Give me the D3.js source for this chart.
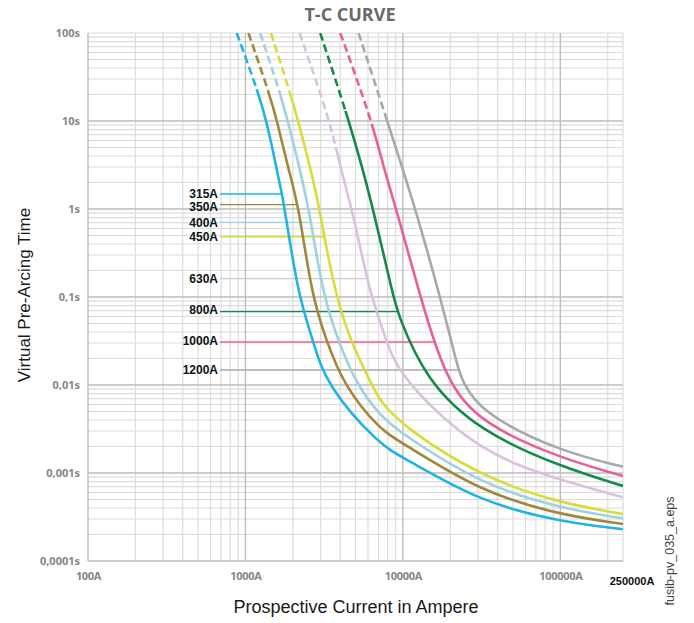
<!DOCTYPE html>
<html>
<head>
<meta charset="utf-8">
<script src="https://cdnjs.cloudflare.com/ajax/libs/d3/7.8.5/d3.min.js"></script>
<style>
  body { margin: 0; background: #fff; }
</style>
</head>
<body>
<script>
const width = 694;
const height = 623;

// fuse ratings, curves as [current A, pre-arcing time s]
const ratings = ["315A", "350A", "400A", "450A", "630A", "800A", "1000A", "1200A"];
const curve315 = [[880, 100], [1182, 23.5], [1364, 10], [1584, 2.77], [1704, 1.48], [1775, 1.0], [2172, 0.1], [2706, 0.0308], [3245, 0.01], [7183, 0.00204], [10100, 0.0015], [31050, 0.000468], [100000, 0.00028], [250000, 0.000229]];
const curve350 = [[1045, 100], [1394, 22.5], [1591, 10], [1877, 2.77], [2172, 1.119], [2643, 0.1], [3292, 0.0308], [4198, 0.01], [7183, 0.00303], [10100, 0.00217], [31050, 0.000613], [100000, 0.000333], [250000, 0.000263]];
const curve400 = [[1240, 100], [1662, 20.8], [1855, 10], [2227, 2.77], [2515, 1.0], [2605, 0.706], [3133, 0.1], [3900, 0.0308], [5108, 0.01], [7183, 0.00444], [10100, 0.0027], [31050, 0.00075], [100000, 0.000397], [250000, 0.000305]];
const curve450 = [[1451, 100], [1924, 20.8], [2163, 10], [2605, 2.77], [2954, 1.0], [3165, 0.484], [3773, 0.1], [4677, 0.0308], [6362, 0.01], [7183, 0.00646], [10100, 0.00336], [31050, 0.000908], [100000, 0.000453], [250000, 0.000342]];
const curve630 = [[2204, 100], [3456, 10], [4041, 2.77], [4747, 1.0], [5912, 0.1614], [6362, 0.1], [7844, 0.0308], [9870, 0.0114], [31050, 0.00167], [100000, 0.000832], [250000, 0.000529]];
const curve800 = [[2985, 100], [4550, 10], [5577, 2.77], [6455, 1.0], [8728, 0.1], [9173, 0.0681], [13880, 0.0114], [31050, 0.00294], [100000, 0.00118], [250000, 0.000712]];
const curve1000 = [[4000, 100], [6362, 10], [7617, 2.77], [9080, 1.0], [12900, 0.1], [18600, 0.0114], [31050, 0.00367], [100000, 0.00147], [250000, 0.000925]];
const curve1200 = [[5229, 100], [7958, 10], [10015, 2.77], [11990, 1.0], [17290, 0.1], [22500, 0.0148], [23760, 0.0114], [31050, 0.00484], [100000, 0.00175], [250000, 0.00118]];
const curves = [curve315, curve350, curve400, curve450, curve630, curve800, curve1000, curve1200];

// above this time the curve is drawn dashed
const dashLimit = [23, 22, 20, 19, 5, 13, 9, 10];
// time at which each rating label points to its curve
const labelTime = [1.48, 1.119, 0.706, 0.484, 0.1614, 0.0681, 0.0308, 0.0148];

const yTicks = [100, 10, 1, 0.1, 0.01, 0.001, 0.0001];
const yTickLabels = ["100s", "10s", "1s", "0,1s", "0,01s", "0,001s", "0,0001s"];
const xTicks = [100, 1000, 10000, 100000];
const xTickLabels = ["100A", "1000A", "10000A", "100000A"];
const xMax = 250000;
const xMaxLabel = "250000A";

const colors = ["#1fb4e2", "#a0883a", "#9dd3df", "#d6dd3a", "#d8c2de", "#138a4c", "#e5609c", "#a7a8a8"];
// small vertical nudges of the rating texts against their leader lines
const labelNudge = [0, 2, 0, 0, 0, -2.5, -1, 0];

const x = d3.scaleLog().domain([100, xMax]).range([88, 623]);
const y = d3.scaleLog().domain([0.0001, 100]).range([561, 33]);

const svg = d3.select("body")
  .append("svg")
  .attr("width", width)
  .attr("height", height);

// grid lines, minor first then decades on top
const xGrid = [];
for (let e = 2; e <= 5; e++) {
  for (let k = 1; k <= 9; k++) {
    const v = k * Math.pow(10, e);
    if (v <= xMax) xGrid.push({ v: v, major: k === 1 });
  }
}
xGrid.push({ v: xMax, major: false });

const yGrid = [];
for (let e = -4; e <= 1; e++) {
  for (let k = 1; k <= 9; k++) yGrid.push({ v: k * Math.pow(10, e), major: k === 1 });
}
yGrid.push({ v: 100, major: false });

const grid = svg.append("g");
[false, true].forEach(function(major) {
  grid.selectAll(null)
    .data(xGrid.filter(d => d.major === major))
    .enter()
    .append("line")
    .attr("x1", d => x(d.v)).attr("x2", d => x(d.v))
    .attr("y1", y(100)).attr("y2", y(0.0001))
    .attr("stroke", major ? "#bdbdbd" : "#dcdcdc")
    .attr("stroke-width", major ? 1.4 : 1.2);
  grid.selectAll(null)
    .data(yGrid.filter(d => d.major === major))
    .enter()
    .append("line")
    .attr("x1", x(100)).attr("x2", x(xMax))
    .attr("y1", d => y(d.v)).attr("y2", d => y(d.v))
    .attr("stroke", major ? "#bdbdbd" : "#dcdcdc")
    .attr("stroke-width", major ? 1.4 : 1.2);
});

// axes (labels only)
const yAxis = svg.append("g")
  .attr("transform", "translate(80,0)")
  .call(d3.axisLeft(y).tickValues(yTicks).tickSize(0).tickFormat((d, i) => yTickLabels[i]));
yAxis.select(".domain").remove();
yAxis.selectAll("text")
  .attr("x", 0)
  .attr("dy", "0.35em")
  .style("font-family", "'Open Sans', sans-serif")
  .style("font-weight", "bold")
  .style("font-size", "11px")
  .style("fill", "#858585");

const xAxis = svg.append("g")
  .attr("transform", "translate(0,572)")
  .call(d3.axisBottom(x).tickValues(xTicks).tickSize(0).tickFormat((d, i) => xTickLabels[i]));
xAxis.select(".domain").remove();
xAxis.selectAll("text")
  .attr("y", 0)
  .attr("dy", "0.71em")
  .style("font-family", "'Open Sans', sans-serif")
  .style("font-weight", "bold")
  .style("font-size", "11px")
  .style("letter-spacing", "-0.3px")
  .style("fill", "#858585");

svg.append("text")
  .attr("x", x(xMax) + 9)
  .attr("y", 585)
  .attr("text-anchor", "middle")
  .style("font-family", "'Liberation Sans', Arial, sans-serif")
  .style("font-weight", "bold")
  .style("font-size", "11px")
  .style("fill", "#111")
  .text(xMaxLabel);

// curves
const line = d3.line()
  .x(d => x(d[0]))
  .y(d => y(d[1]))
  .curve(d3.curveBasis);

const defs = svg.append("defs");
curves.forEach(function(c, i) {
  const yb = y(dashLimit[i]);
  defs.append("clipPath").attr("id", "dash" + i)
    .append("rect").attr("x", x(100)).attr("y", y(100)).attr("width", x(xMax) - x(100)).attr("height", yb - y(100));
  defs.append("clipPath").attr("id", "solid" + i)
    .append("rect").attr("x", x(100)).attr("y", yb).attr("width", x(xMax) - x(100)).attr("height", y(0.0001) - yb);
});

const leaders = svg.append("g");
const curveGroup = svg.append("g");

curves.forEach(function(c, i) {
  curveGroup.append("path")
    .datum(c)
    .attr("d", line)
    .attr("fill", "none")
    .attr("stroke", colors[i])
    .attr("stroke-width", 2.6)
    .attr("stroke-dasharray", "8,4")
    .attr("clip-path", "url(#dash" + i + ")");
  const solid = curveGroup.append("path")
    .datum(c)
    .attr("d", line)
    .attr("fill", "none")
    .attr("stroke", colors[i])
    .attr("stroke-width", 2.6)
    .attr("clip-path", "url(#solid" + i + ")");

  // find where the drawn curve crosses the label time
  const node = solid.node();
  const len = node.getTotalLength();
  const ty = y(labelTime[i]);
  let endX = x(c[0][0]);
  for (let s = 0; s <= len; s += 0.5) {
    const p = node.getPointAtLength(s);
    if (p.y >= ty) { endX = p.x; break; }
  }

  leaders.append("line")
    .attr("x1", 220).attr("x2", endX)
    .attr("y1", ty).attr("y2", ty)
    .attr("stroke", colors[i])
    .attr("stroke-width", 1.3);

  svg.append("text")
    .attr("x", 218)
    .attr("y", ty + labelNudge[i])
    .attr("dy", "0.36em")
    .attr("text-anchor", "end")
    .style("font-family", "'Liberation Sans', Arial, sans-serif")
    .style("font-weight", "bold")
    .style("font-size", "12px")
    .style("fill", "#111")
    .text(ratings[i]);
});

// titles
svg.append("text")
  .attr("x", 350)
  .attr("y", 21)
  .attr("text-anchor", "middle")
  .style("font-family", "'Open Sans', sans-serif")
  .style("font-weight", "bold")
  .style("font-size", "18px")
  .style("fill", "#6a6a6a")
  .text("T-C CURVE");

svg.append("text")
  .attr("transform", "translate(30,295) rotate(-90)")
  .attr("text-anchor", "middle")
  .style("font-family", "'Liberation Sans', Arial, sans-serif")
  .style("font-size", "17px")
  .style("fill", "#1a1a1a")
  .text("Virtual Pre-Arcing Time");

svg.append("text")
  .attr("x", 356)
  .attr("y", 613)
  .attr("text-anchor", "middle")
  .style("font-family", "'Liberation Sans', Arial, sans-serif")
  .style("font-size", "18px")
  .style("fill", "#1a1a1a")
  .text("Prospective Current in Ampere");

svg.append("text")
  .attr("transform", "translate(674,551) rotate(-90)")
  .attr("text-anchor", "middle")
  .style("font-family", "'Liberation Sans', Arial, sans-serif")
  .style("font-size", "12.5px")
  .style("fill", "#444")
  .text("fusib-pv_035_a.eps");
</script>
</body>
</html>
